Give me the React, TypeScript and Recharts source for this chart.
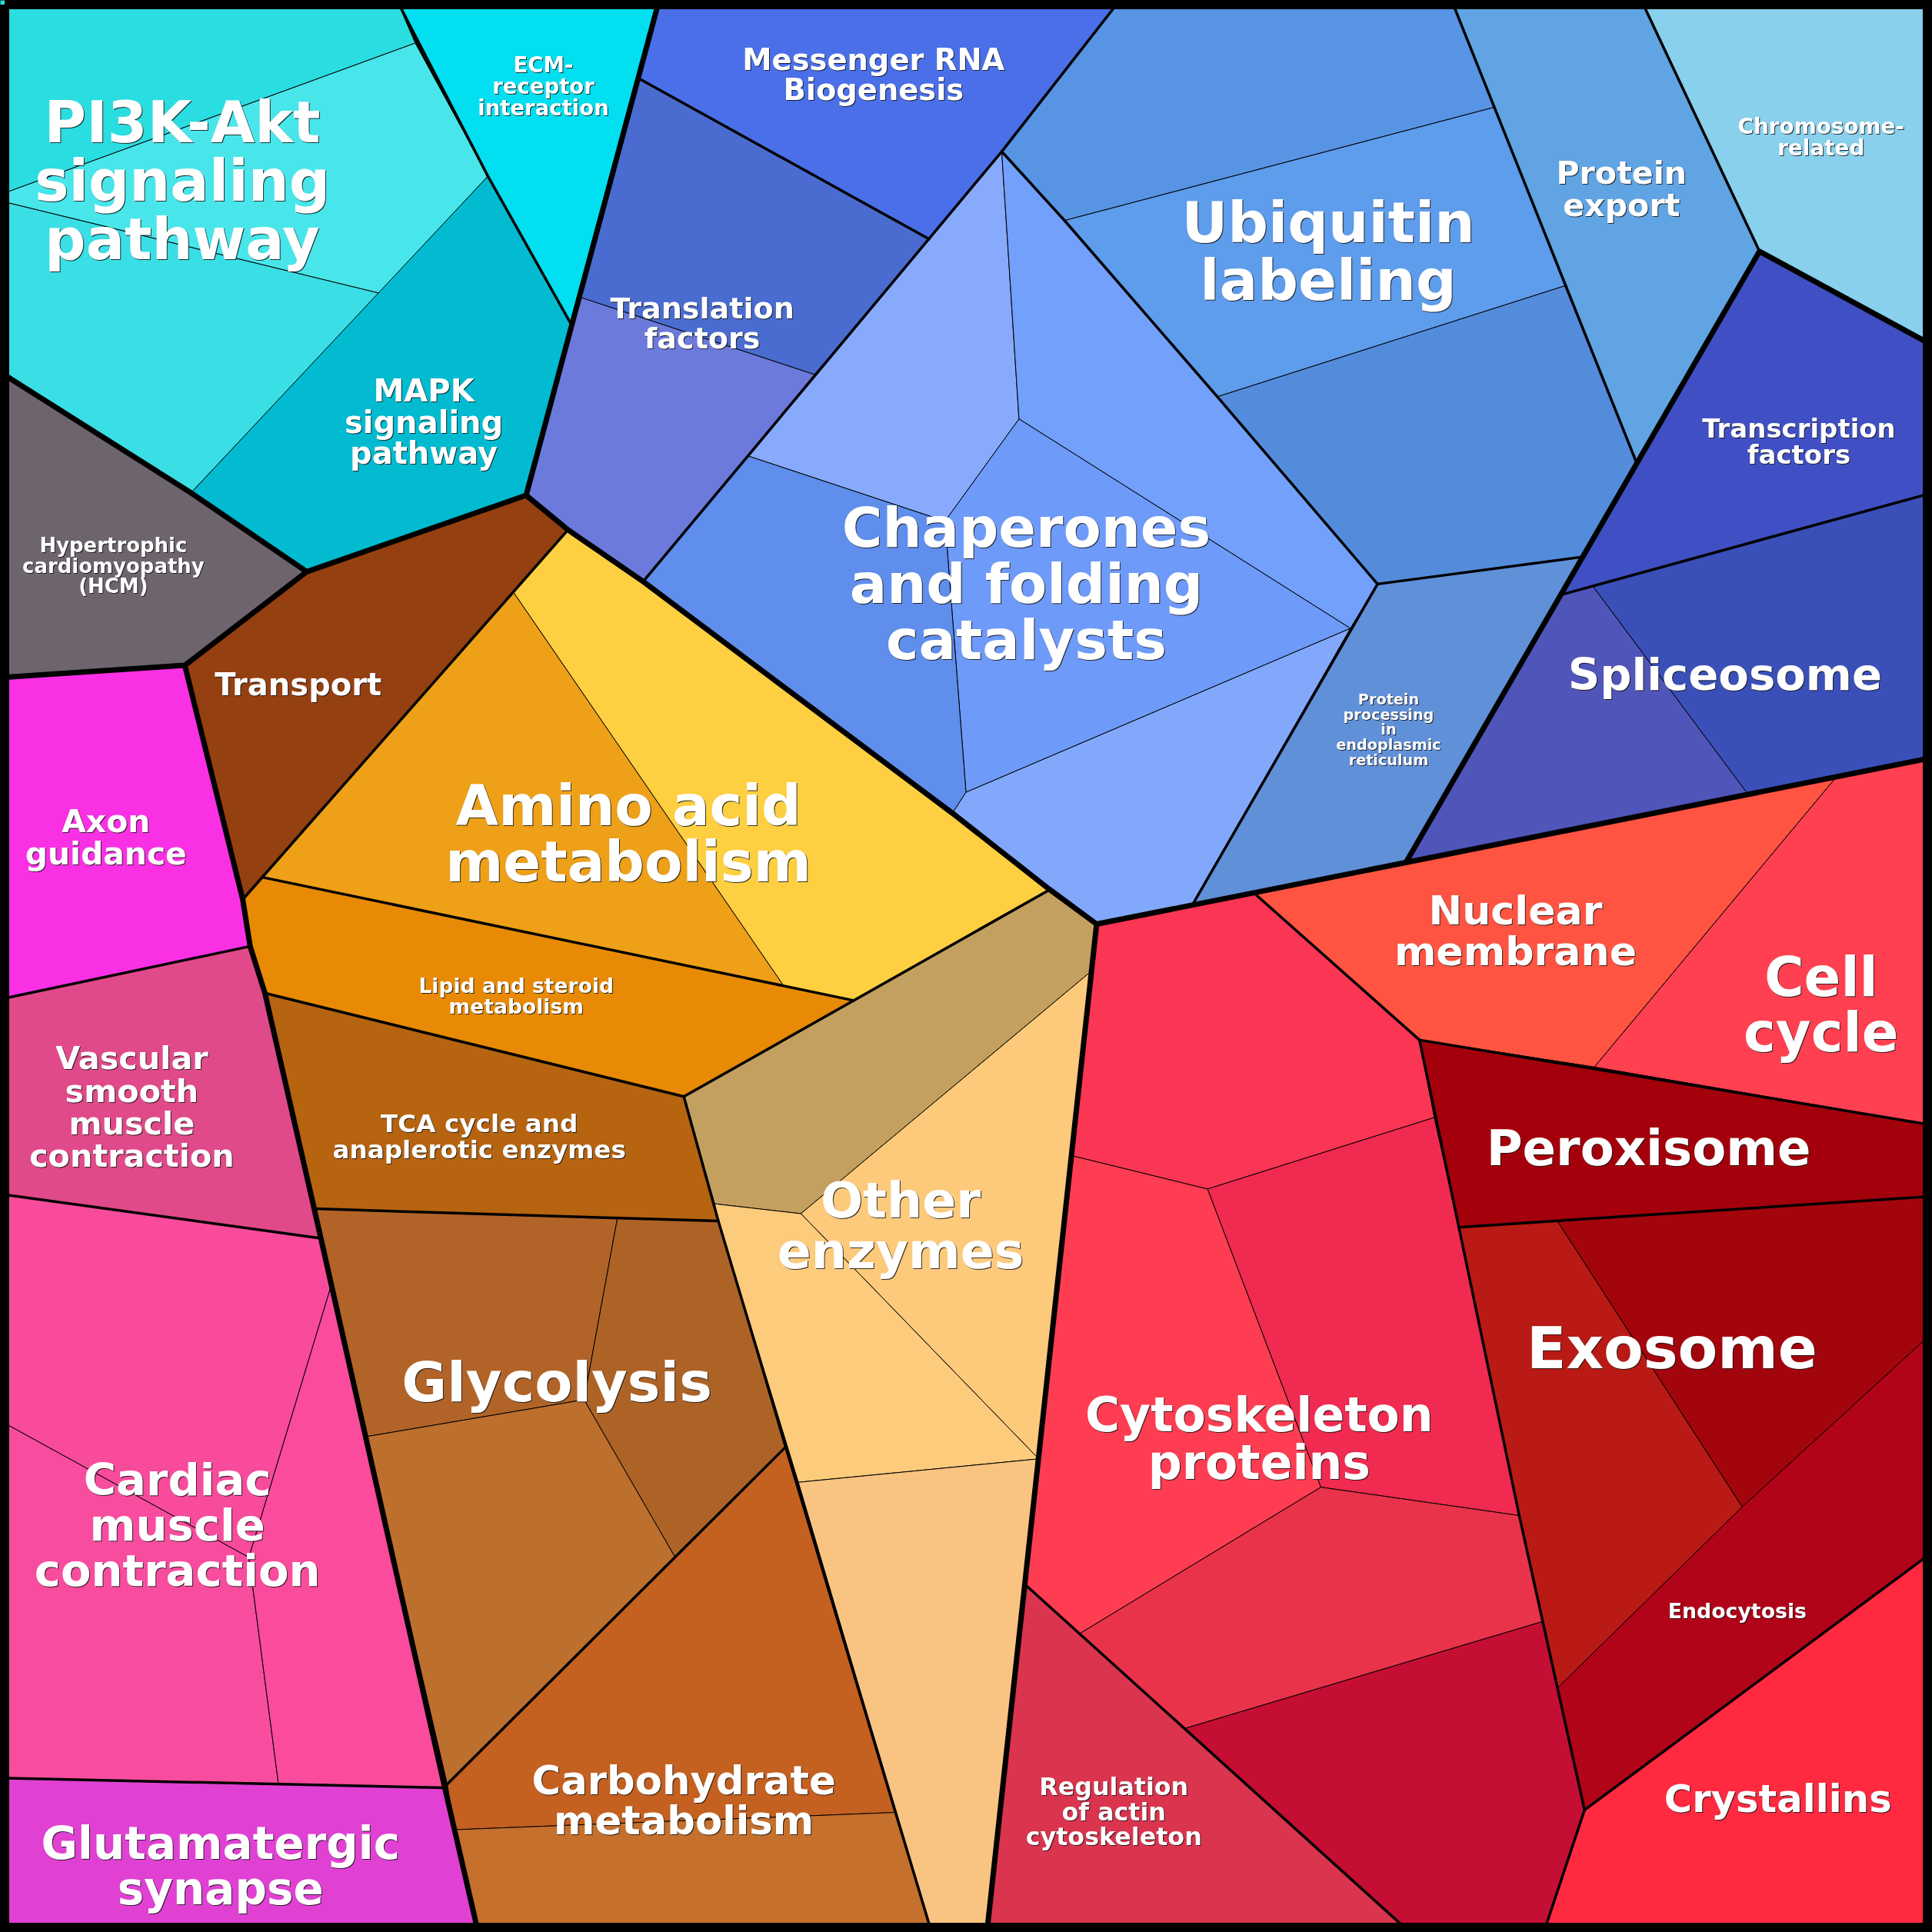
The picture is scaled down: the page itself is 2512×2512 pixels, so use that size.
import { ScatterChart, Scatter, XAxis, YAxis } from "recharts";

// map space is 0..1568 on both axes, drawn into a 2512px square
const W = 2512;
const SPAN = 1568;
const K = W / SPAN;

type Pt = [number, number];
type Cell = [string, Pt[]];

const CYAN_CELLS: Cell[] = [
  ["pi3k-a", [[0, 0], [322, 0], [337, 35], [0, 158]]],
  ["pi3k-b", [[0, 158], [337, 35], [396, 143], [308, 238], [0, 163]]],
  ["pi3k-c", [[0, 163], [308, 238], [155, 400], [0, 302]]],
  ["ecm", [[322, 0], [535, 0], [464, 264], [396, 143]]],
  ["mapk", [[396, 143], [464, 264], [427, 402], [249, 464], [155, 400]]],
  ["hcm", [[0, 302], [155, 400], [249, 464], [150, 540], [0, 550]]],
];

const PINK_CELLS: Cell[] = [
  ["axon", [[0, 550], [150, 540], [197, 730], [203, 768], [0, 811]]],
  ["vasc", [[0, 811], [203, 768], [215, 806], [255, 981], [260, 1005], [0, 969]]],
  ["card-a", [[0, 969], [260, 1005], [268, 1046], [202, 1264], [0, 1153]]],
  ["card-b", [[0, 1153], [202, 1264], [226, 1448], [0, 1443]]],
  ["card-c", [[268, 1046], [297, 1166], [361, 1451], [226, 1448], [202, 1264]]],
  ["glut", [[0, 1443], [226, 1448], [361, 1451], [388, 1568], [0, 1568]]],
];

const METAB_CELLS: Cell[] = [
  ["transport", [[249, 464], [427, 402], [461, 430], [417, 481], [213, 712], [197, 730], [150, 540]]],
  ["amino-a", [[417, 481], [636, 800], [213, 712]]],
  ["amino-b", [[461, 430], [522, 472], [773, 660], [852, 722], [693, 812], [636, 800], [417, 481]]],
  ["lipid", [[213, 712], [636, 800], [693, 812], [555, 890], [215, 806], [203, 768], [197, 730]]],
  ["tca", [[215, 806], [555, 890], [583, 991], [501, 989], [255, 981]]],
  ["glyc-a", [[255, 981], [501, 989], [474, 1136], [297, 1166]]],
  ["glyc-b", [[501, 989], [583, 991], [637, 1175], [548, 1264], [474, 1136]]],
  ["glyc-c", [[297, 1166], [474, 1136], [548, 1264], [363, 1448]]],
  ["carb-a", [[363, 1448], [548, 1264], [637, 1175], [726, 1471], [369, 1485]]],
  ["carb-b", [[369, 1485], [726, 1471], [756, 1568], [388, 1568]]],
  ["other-a", [[852, 722], [890, 750], [886, 788], [650, 985], [580, 977], [555, 890], [693, 812]]],
  ["other-b", [[650, 985], [886, 788], [843, 1184]]],
  ["other-c", [[580, 977], [650, 985], [843, 1184], [648, 1203], [583, 991]]],
  ["other-d", [[648, 1203], [843, 1184], [801, 1568], [756, 1568]]],
];

const BLUE_CELLS: Cell[] = [
  ["mrna", [[535, 0], [909, 0], [813, 123], [754, 194], [519, 64]]],
  ["transl-a", [[519, 64], [754, 194], [661, 304], [470, 241]]],
  ["transl-b", [[470, 241], [661, 304], [607, 370], [522, 472], [461, 430], [427, 402], [464, 264]]],
  ["chap-a", [[813, 123], [827, 340], [767, 423], [607, 370], [661, 304], [754, 194]]],
  ["chap-b", [[813, 123], [864, 179], [988, 322], [1118, 474], [1096, 510], [827, 340]]],
  ["chap-c", [[827, 340], [1096, 510], [784, 643], [767, 423]]],
  ["chap-d", [[607, 370], [767, 423], [784, 643], [773, 660], [522, 472]]],
  ["chap-e", [[784, 643], [1096, 510], [968, 734], [890, 750], [852, 722], [773, 660]]],
  ["ubiq-a", [[909, 0], [1178, 0], [1213, 87], [864, 179], [813, 123]]],
  ["ubiq-b", [[864, 179], [1213, 87], [1270, 232], [988, 322]]],
  ["ubiq-c", [[988, 322], [1270, 232], [1328, 375], [1284, 452], [1118, 474]]],
  ["export", [[1178, 0], [1332, 0], [1428, 204], [1328, 375]]],
  ["chrom", [[1332, 0], [1568, 0], [1568, 280], [1428, 204]]],
  ["tf", [[1428, 204], [1568, 280], [1568, 400], [1293, 476], [1266, 483]]],
  ["splice-a", [[1266, 483], [1293, 476], [1419, 645], [1141, 700]]],
  ["splice-b", [[1293, 476], [1568, 400], [1568, 615], [1419, 645]]],
  ["er", [[1118, 474], [1284, 452], [1141, 700], [968, 734], [1096, 510]]],
];

const RED_CELLS: Cell[] = [
  ["nuc", [[1018, 725], [1490, 631], [1294, 866], [1152, 844]]],
  ["cellcycle", [[1490, 631], [1568, 615], [1568, 913], [1294, 866]]],
  ["perox", [[1152, 844], [1294, 866], [1568, 913], [1568, 971], [1264, 991], [1184, 996]]],
  ["exo-a", [[1184, 996], [1264, 991], [1414, 1223], [1264, 1370], [1252, 1316], [1233, 1230]]],
  ["exo-b", [[1264, 991], [1568, 971], [1568, 1082], [1414, 1223]]],
  ["endo", [[1264, 1370], [1414, 1223], [1568, 1082], [1568, 1260], [1286, 1469]]],
  ["cryst", [[1286, 1469], [1568, 1260], [1568, 1568], [1253, 1568]]],
  ["cyto-a", [[890, 750], [1018, 725], [1152, 844], [1164, 907], [980, 965], [870, 938]]],
  ["cyto-b", [[980, 965], [1164, 907], [1184, 996], [1233, 1230], [1072, 1207]]],
  ["cyto-c", [[870, 938], [980, 965], [1072, 1207], [876, 1326], [832, 1286]]],
  ["cyto-d", [[1072, 1207], [1233, 1230], [1252, 1316], [961, 1403], [876, 1326]]],
  ["cyto-e", [[961, 1403], [1252, 1316], [1264, 1370], [1286, 1469], [1253, 1568], [1144, 1568]]],
  ["actin", [[832, 1286], [876, 1326], [961, 1403], [1144, 1568], [801, 1568]]],
];

const CELL_COLORS: Record<string, string> = {
  "pi3k-a": "#2ADDE0", "pi3k-b": "#48E6EA", "pi3k-c": "#3ADEE5", ecm: "#02DFF0", mapk: "#02BBD0", hcm: "#6E646E",
  axon: "#FA30E5", vasc: "#E04A8A", "card-a": "#F84B9B", "card-b": "#F84D9F", "card-c": "#FA4B9C", glut: "#E041D3",
  transport: "#954010", "amino-a": "#EDA018", "amino-b": "#FECF40", lipid: "#E88A05", tca: "#B66410",
  "glyc-a": "#B26428", "glyc-b": "#AD6326", "glyc-c": "#BD6F2E", "carb-a": "#C46020", "carb-b": "#C5702C",
  "other-a": "#C4A060", "other-b": "#FDC97B", "other-c": "#FCCB7C", "other-d": "#F9C481",
  mrna: "#4A6FE8", "transl-a": "#4A6CD0", "transl-b": "#6B7ADB",
  "chap-a": "#88AAFC", "chap-b": "#72A0FA", "chap-c": "#6E9AF9", "chap-d": "#5F8EEC", "chap-e": "#82A8FC",
  "ubiq-a": "#5894E4", "ubiq-b": "#5E9CEC", "ubiq-c": "#548CDC", export: "#60A4E4", chrom: "#88D0EC",
  tf: "#4050C4", "splice-a": "#5055BA", "splice-b": "#3A50B8", er: "#6090D8",
  nuc: "#FF5442", cellcycle: "#FF4050", perox: "#A3000C", "exo-a": "#B91A15", "exo-b": "#A3050D",
  endo: "#B20418", cryst: "#FF2A40", "cyto-a": "#FB3554", "cyto-b": "#F02A50", "cyto-c": "#FE3D52",
  "cyto-d": "#E8334A", "cyto-e": "#C40E34", actin: "#DA344E",
};

// boundaries between top-level groups
const THICK_EDGES: Pt[][] = [
  [[535, 0], [464, 264], [427, 402]],
  [[0, 302], [155, 400], [249, 464], [427, 402]],
  [[249, 464], [150, 540], [0, 550]],
  [[150, 540], [197, 730], [203, 768], [215, 806], [255, 981], [361, 1451], [388, 1568]],
  [[427, 402], [461, 430], [522, 472], [773, 660], [852, 722], [890, 750]],
  [[890, 750], [1568, 615]],
  [[890, 750], [801, 1568]],
  [[1568, 280], [1428, 204], [1141, 700]],
];

// boundaries between labelled categories
const MID_EDGES: Pt[][] = [
  [[322, 0], [396, 143], [464, 264]],
  [[0, 811], [203, 768]],
  [[0, 969], [260, 1005]],
  [[0, 1443], [361, 1451]],
  [[461, 430], [197, 730]],
  [[213, 712], [693, 812]],
  [[852, 722], [555, 890]],
  [[215, 806], [555, 890]],
  [[555, 890], [583, 991], [756, 1568]],
  [[255, 981], [583, 991]],
  [[363, 1448], [637, 1175]],
  [[519, 64], [754, 194]],
  [[909, 0], [813, 123], [522, 472]],
  [[813, 123], [864, 179], [988, 322], [1118, 474]],
  [[1118, 474], [968, 734]],
  [[1118, 474], [1284, 452]],
  [[1178, 0], [1328, 375]],
  [[1332, 0], [1428, 204]],
  [[1266, 483], [1568, 400]],
  [[1018, 725], [1152, 844]],
  [[1152, 844], [1568, 913]],
  [[1152, 844], [1184, 996], [1233, 1230], [1286, 1469], [1253, 1568]],
  [[1184, 996], [1568, 971]],
  [[1286, 1469], [1568, 1260]],
  [[832, 1286], [1144, 1568]],
];

const FRAME: Pt[] = [[3.75, 3.75], [1564.25, 3.75], [1564.25, 1564.25], [3.75, 1564.25], [3.75, 3.75]];

const LABELS = [
  { id: "pi3k", lines: ["PI3K-Akt", "signaling", "pathway"], x: 148, y: 146 },
  { id: "ecm", lines: ["ECM-", "receptor", "interaction"], x: 441, y: 70 },
  { id: "mapk", lines: ["MAPK", "signaling", "pathway"], x: 344, y: 342 },
  { id: "hcm", lines: ["Hypertrophic", "cardiomyopathy", "(HCM)"], x: 92, y: 459 },
  { id: "transport", lines: ["Transport"], x: 242, y: 555 },
  { id: "axon", lines: ["Axon", "guidance"], x: 86, y: 679 },
  { id: "amino", lines: ["Amino acid", "metabolism"], x: 510, y: 676 },
  { id: "lipid", lines: ["Lipid and steroid", "metabolism"], x: 419, y: 808 },
  { id: "tca", lines: ["TCA cycle and", "anaplerotic enzymes"], x: 389, y: 922 },
  { id: "vasc", lines: ["Vascular", "smooth", "muscle", "contraction"], x: 107, y: 898 },
  { id: "cardiac", lines: ["Cardiac", "muscle", "contraction"], x: 144, y: 1237 },
  { id: "glut", lines: ["Glutamatergic", "synapse"], x: 179, y: 1514 },
  { id: "glyc", lines: ["Glycolysis"], x: 452, y: 1121 },
  { id: "carb", lines: ["Carbohydrate", "metabolism"], x: 555, y: 1461 },
  { id: "other", lines: ["Other", "enzymes"], x: 731, y: 994 },
  { id: "mrna", lines: ["Messenger RNA", "Biogenesis"], x: 709, y: 60 },
  { id: "transl", lines: ["Translation", "factors"], x: 570, y: 262 },
  { id: "ubiq", lines: ["Ubiquitin", "labeling"], x: 1078, y: 203 },
  { id: "export", lines: ["Protein", "export"], x: 1316, y: 153 },
  { id: "chrom", lines: ["Chromosome-", "related"], x: 1478, y: 111 },
  { id: "tf", lines: ["Transcription", "factors"], x: 1460, y: 358 },
  { id: "splice", lines: ["Spliceosome"], x: 1400, y: 547 },
  { id: "chap", lines: ["Chaperones", "and folding", "catalysts"], x: 833, y: 473 },
  { id: "er", lines: ["Protein", "processing", "in", "endoplasmic", "reticulum"], x: 1127, y: 592 },
  { id: "nuc", lines: ["Nuclear", "membrane"], x: 1230, y: 755 },
  { id: "cellcycle", lines: ["Cell", "cycle"], x: 1478, y: 815 },
  { id: "perox", lines: ["Peroxisome"], x: 1338, y: 931 },
  { id: "exo", lines: ["Exosome"], x: 1357, y: 1093 },
  { id: "cyto", lines: ["Cytoskeleton", "proteins"], x: 1022, y: 1167 },
  { id: "endo", lines: ["Endocytosis"], x: 1410, y: 1307 },
  { id: "cryst", lines: ["Crystallins"], x: 1443, y: 1459 },
  { id: "actin", lines: ["Regulation", "of actin", "cytoskeleton"], x: 904, y: 1470 },
];

// font size of each label, in map units
const LABEL_EM: Record<string, number> = {
  pi3k: 46.5, ecm: 17.2, mapk: 25, hcm: 16.2, transport: 25, axon: 25.5, amino: 45, lipid: 16.6,
  tca: 20.4, vasc: 25.8, cardiac: 36, glut: 36.2, glyc: 44.8, carb: 32, other: 40.5, mrna: 24,
  transl: 23.8, ubiq: 46, export: 25.7, chrom: 17.4, tf: 21.2, splice: 36, chap: 44.8, er: 12,
  nuc: 32.6, cellcycle: 44, perox: 40, exo: 47, cyto: 38.4, endo: 16.7, cryst: 31, actin: 19.8,
};

const toData = (pts: Pt[]) => pts.map(([x, y]) => ({ x, y }));
const closed = (pts: Pt[]) => toData([...pts, pts[0]]);
const noDot = () => <g />;

function LabelShape(props: any) {
  const { cx, cy, payload } = props;
  const fs = LABEL_EM[payload.id] * K;
  const ls = fs * 1.02;
  const n = payload.lines.length;
  const y0 = cy - ((n - 1) * ls) / 2 + 0.365 * fs;
  const sh = (1 + fs * 0.012).toFixed(1);
  return (
    <text
      x={cx}
      y={y0}
      fill="#ffffff"
      fontFamily="'DejaVu Sans', sans-serif"
      fontWeight="bold"
      fontSize={fs}
      textAnchor="middle"
      style={{ filter: `drop-shadow(${sh}px ${sh}px 0.6px rgba(20,20,20,0.85))` }}
    >
      {payload.lines.map((l: string, i: number) => (
        <tspan key={i} x={cx} y={y0 + i * ls}>{l}</tspan>
      ))}
    </text>
  );
}

const ALL_CELLS = [...CYAN_CELLS, ...PINK_CELLS, ...METAB_CELLS, ...BLUE_CELLS, ...RED_CELLS];

export default function App() {
  return (
    <div style={{ position: "absolute", left: 0, top: 0, width: W, height: W, background: "#000" }}>
      <ScatterChart width={W} height={W} margin={{ top: 0, right: 0, bottom: 0, left: 0 }}>
        <XAxis type="number" dataKey="x" domain={[0, SPAN]} allowDataOverflow hide />
        <YAxis type="number" dataKey="y" domain={[0, SPAN]} allowDataOverflow reversed hide />
        {ALL_CELLS.map(([id, pts]) => (
          <Scatter
            key={id}
            data={closed(pts)}
            line={{ fill: CELL_COLORS[id], stroke: "#000", strokeWidth: 1, strokeLinejoin: "round" }}
            lineType="joint"
            shape={noDot}
            isAnimationActive={false}
          />
        ))}
        {MID_EDGES.map((pts, i) => (
          <Scatter
            key={"m" + i}
            data={toData(pts)}
            line={{ fill: "none", stroke: "#000", strokeWidth: 3.5, strokeLinejoin: "round", strokeLinecap: "round" }}
            lineType="joint"
            shape={noDot}
            isAnimationActive={false}
          />
        ))}
        {THICK_EDGES.map((pts, i) => (
          <Scatter
            key={"t" + i}
            data={toData(pts)}
            line={{ fill: "none", stroke: "#000", strokeWidth: 7, strokeLinejoin: "round", strokeLinecap: "round" }}
            lineType="joint"
            shape={noDot}
            isAnimationActive={false}
          />
        ))}
        <Scatter
          data={toData(FRAME)}
          line={{ fill: "none", stroke: "#000", strokeWidth: 12, strokeLinejoin: "miter" }}
          lineType="joint"
          shape={noDot}
          isAnimationActive={false}
        />
        <Scatter data={LABELS} shape={LabelShape} isAnimationActive={false} />
      </ScatterChart>
    </div>
  );
}
